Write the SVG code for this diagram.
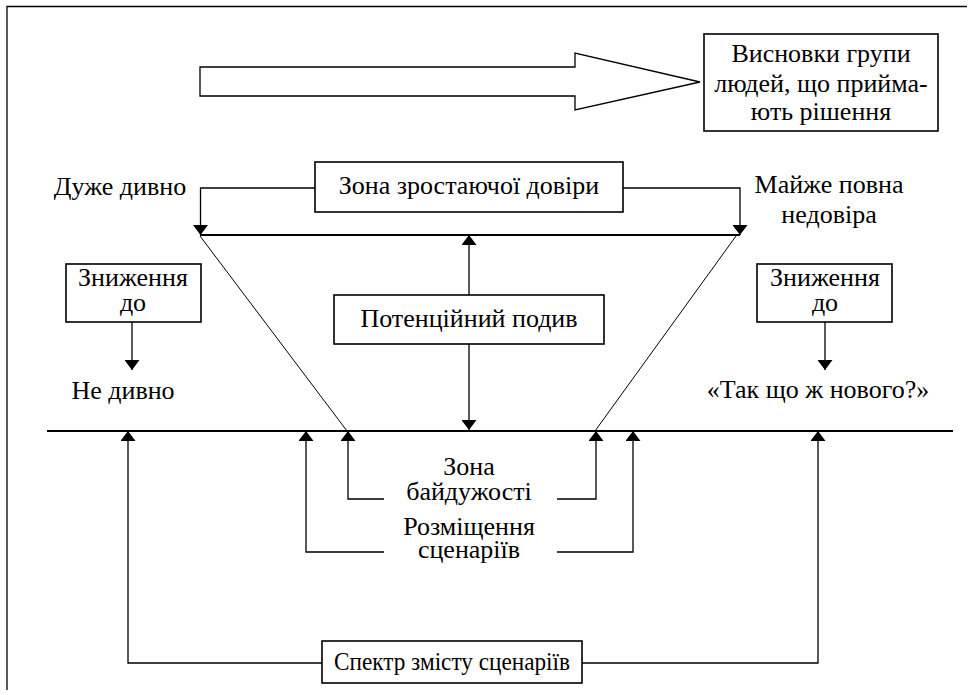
<svg xmlns="http://www.w3.org/2000/svg" width="973" height="695" viewBox="0 0 973 695">
<defs>
<marker id="ah" markerUnits="userSpaceOnUse" markerWidth="10" markerHeight="15" viewBox="0 0 10 15" refX="10" refY="7.5" orient="auto">
<path d="M0,0 L10,7.5 L0,15 z" fill="#000"/>
</marker>
</defs>
<style>
.t{font-family:'Liberation Serif','Times New Roman',serif;font-size:26px;fill:#000;text-anchor:middle}
.box{fill:#fff;stroke:#000;stroke-width:1.6}
.ln{fill:none;stroke:#000;stroke-width:1.3}
.thick{fill:none;stroke:#000;stroke-width:2}
.thin{fill:none;stroke:#000;stroke-width:1}
.arr{marker-end:url(#ah)}
</style>
<rect width="973" height="695" fill="#fff"/>
<path class="ln" d="M7,690 V6.5 H967"/>

<g id="connectors">
<path class="thick" d="M200,235 H740"/>
<path class="thick" d="M47,431 H953"/>
<path class="thin" d="M200,236 L347,431"/>
<path class="thin" d="M736,236 L595,431"/>
<path class="ln arr" d="M315,188 H200.5 V235"/>
<path class="ln arr" d="M623,188 H740 V235"/>
<path class="ln arr" d="M469,295 V235"/>
<path class="ln arr" d="M469,344 V430"/>
<path class="ln arr" d="M132,322 V370"/>
<path class="ln arr" d="M825,322 V370"/>
<path class="ln arr" d="M384,499 H348 V431"/>
<path class="ln arr" d="M557,499 H596 V431"/>
<path class="ln arr" d="M384,552 H306 V431"/>
<path class="ln arr" d="M557,552 H633 V431"/>
<path class="ln arr" d="M322,663 H128 V431"/>
<path class="ln arr" d="M582,663 H818 V431"/>
</g>

<g id="big-arrow">
<path class="ln" d="M200,67 H575 V53 L700,82 L575,110 V96 H200 Z" fill="#fff"/>
</g>

<g id="conclusions">
<rect class="box" x="704" y="34" width="234" height="97"/>
<text class="t" x="821" y="62">Висновки групи</text>
<text class="t" x="821" y="92">людей, що прийма-</text>
<text class="t" x="821" y="120">ють рішення</text>
</g>

<g id="trust-zone">
<rect class="box" x="315" y="162" width="308" height="50"/>
<text class="t" x="469" y="194">Зона зростаючої довіри</text>
</g>

<g id="very-surprising">
<text class="t" x="120" y="195">Дуже дивно</text>
</g>

<g id="almost-distrust">
<text class="t" x="829" y="193">Майже повна</text>
<text class="t" x="829" y="223">недовіра</text>
</g>

<g id="decrease-left">
<rect class="box" x="66" y="264" width="135" height="58"/>
<text class="t" x="133" y="286">Зниження</text>
<text class="t" x="133" y="311">до</text>
</g>

<g id="decrease-right">
<rect class="box" x="757" y="264" width="135" height="58"/>
<text class="t" x="825" y="286">Зниження</text>
<text class="t" x="825" y="311">до</text>
</g>

<g id="not-surprising">
<text class="t" x="123" y="399">Не дивно</text>
</g>

<g id="whats-new">
<text class="t" x="818" y="398">«Так що ж нового?»</text>
</g>

<g id="potential-surprise">
<rect class="box" x="334" y="295" width="270" height="49"/>
<text class="t" x="469" y="327">Потенційний подив</text>
</g>

<g id="indifference-zone">
<text class="t" x="469" y="475">Зона</text>
<text class="t" x="469" y="500">байдужості</text>
</g>

<g id="scenario-placement">
<text class="t" x="469" y="535">Розміщення</text>
<text class="t" x="469" y="558">сценаріїв</text>
</g>

<g id="spectrum">
<rect class="box" x="322" y="641" width="260" height="42"/>
<text class="t" x="452" y="670" textLength="236" lengthAdjust="spacingAndGlyphs">Спектр змісту сценаріїв</text>
</g>
</svg>
